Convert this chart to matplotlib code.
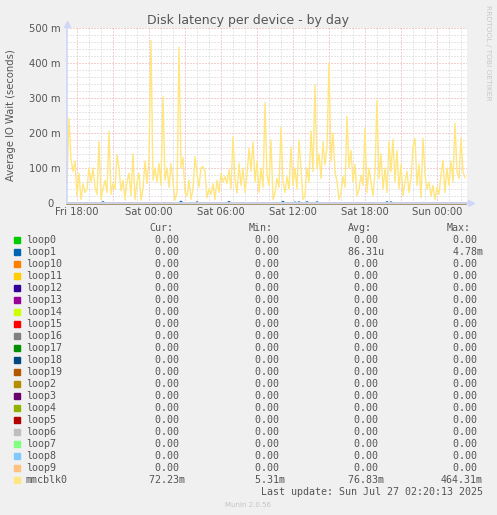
import numpy as np
import matplotlib
matplotlib.use("Agg")
import matplotlib.pyplot as plt
import matplotlib.transforms as mtransforms
from matplotlib.patches import Rectangle

W, H = 497, 515

# time axis in hours relative to Fri 18:00, one sample every 10 minutes
t_start = -50 / 60
t_step = 10 / 60
t_span = 2000 / 60  # 400 px at 5 min/px

# mmcblk0 latency (ms)
mmcblk0 = [
    60, 242, 125, 90, 120, 20, 85, 10, 55, 30, 40, 100,
    60, 100, 45, 25, 175, 10, 40, 65, 30, 205, 25, 55,
    40, 137, 100, 35, 65, 10, 60, 85, 20, 141, 10, 60,
    85, 8, 40, 120, 55, 130, 464.31, 65, 100, 60, 113, 50,
    304, 65, 100, 45, 113, 60, 8, 30, 445, 100, 130, 30,
    20, 65, 10, 40, 132, 85, 45, 100, 104, 90, 15, 40,
    25, 55, 10, 65, 30, 85, 60, 75, 55, 95, 40, 190,
    70, 28, 113, 50, 100, 30, 80, 156, 90, 175, 60, 120,
    30, 100, 45, 287, 80, 50, 180, 10, 30, 70, 45, 216,
    60, 30, 75, 40, 160, 50, 100, 40, 180, 100, 10, 20,
    100, 60, 206, 90, 337, 100, 140, 70, 175, 110, 160, 400,
    120, 200, 90, 60, 10, 30, 75, 45, 248, 100, 150, 60,
    110, 20, 40, 80, 50, 213, 30, 100, 60, 20, 90, 293,
    70, 140, 40, 100, 30, 175, 90, 182, 60, 150, 40, 110,
    20, 60, 90, 30, 70, 160, 185, 50, 110, 15, 185, 80,
    40, 60, 20, 50, 10, 45, 25, 80, 122, 30, 100, 50,
    120, 60, 228, 90, 70, 185, 90, 72.23,
]

# loop1 only has a few tiny blips (ms)
loop1_idx = [18, 57, 65, 81, 108, 114, 116, 120, 125, 160, 162]
loop1_val = [3.5, 4.78, 3.0, 4.0, 4.5, 2.5, 3.0, 3.5, 3.0, 3.5, 3.0]

names = ['loop0', 'loop1', 'loop10', 'loop11', 'loop12', 'loop13', 'loop14',
         'loop15', 'loop16', 'loop17', 'loop18', 'loop19', 'loop2', 'loop3',
         'loop4', 'loop5', 'loop6', 'loop7', 'loop8', 'loop9', 'mmcblk0']
colors = ['#00CC00', '#0066B3', '#FF8000', '#FFCC00', '#330099', '#990099',
          '#CCFF00', '#FF0000', '#808080', '#008F00', '#00487D', '#B35A00',
          '#B38F00', '#6B006B', '#8FB300', '#B30000', '#BEBEBE', '#80FF80',
          '#80C9FF', '#FFC080', '#FFE680']

# legend statistics in seconds
cur_vals = [0, 0, 0, 0, 0, 0, 0, 0, 0, 0, 0, 0, 0, 0, 0, 0, 0, 0, 0, 0, 72.23e-3]
min_vals = [0, 0, 0, 0, 0, 0, 0, 0, 0, 0, 0, 0, 0, 0, 0, 0, 0, 0, 0, 0, 5.31e-3]
avg_vals = [0, 86.31e-6, 0, 0, 0, 0, 0, 0, 0, 0, 0, 0, 0, 0, 0, 0, 0, 0, 0, 0, 76.83e-3]
max_vals = [0, 4.78e-3, 0, 0, 0, 0, 0, 0, 0, 0, 0, 0, 0, 0, 0, 0, 0, 0, 0, 0, 464.31e-3]

x_ticks = [0, 6, 12, 18, 24, 30]
x_labels = ['Fri 18:00', 'Sat 00:00', 'Sat 06:00', 'Sat 12:00', 'Sat 18:00', 'Sun 00:00']
y_ticks = [0, 100, 200, 300, 400, 500]
y_labels = ['0', '100 m', '200 m', '300 m', '400 m', '500 m']

FONT = '#555555'
AXIS = '#CFD6F8'
MONO = 'DejaVu Sans Mono'


def fx(x):
    return x / W


def fy(y):
    return 1 - y / H


def si(v):
    # rrdtool style "%6.2lf%s"
    if v == 0:
        return '%6.2f ' % 0
    for mult, pre in [(1, ' '), (1e-3, 'm'), (1e-6, 'u')]:
        if abs(v) >= mult:
            return '%6.2f%s' % (v / mult, pre)
    return '%6.2f%s' % (v / 1e-9, 'n')


fig = plt.figure(figsize=(W / 100, H / 100), dpi=100, facecolor='#F0F0F0')
ax = fig.add_axes([fx(67), fy(203), 400 / W, 175 / H])
ax.set_facecolor('white')

n = len(mmcblk0)
t = t_start + t_step * np.arange(n)

# grid
for h in range(0, 33):
    major = h % 3 == 0
    ax.axvline(h, color='#EBA0A0' if major else '#CFCFCF', lw=0.72,
               ls=(0, (1, 2)), zorder=1)
for v in range(20, 501, 20):
    major = v % 100 == 0
    ax.axhline(v, color='#EBA0A0' if major else '#CFCFCF', lw=0.72,
               ls=(0, (1, 2)), zorder=1)

# series
for name, col in zip(names, colors):
    if name == 'mmcblk0':
        y = np.array(mmcblk0, dtype=float)
    else:
        y = np.zeros(n)
        if name == 'loop1':
            y[loop1_idx] = loop1_val
    ax.plot(t, y, color=col, lw=1.0, zorder=2, clip_on=False)

ax.set_xlim(t_start, t_start + t_span)
ax.set_ylim(0, 500)
ax.set_xticks(x_ticks, x_labels)
ax.set_yticks(y_ticks, y_labels)
ax.tick_params(length=0, labelsize=7.2, colors=FONT)
ax.tick_params(axis='x', pad=3)
ax.tick_params(axis='y', pad=4.5)
# rrdtool leaves room for the unit after the bare zero
zero_lab = ax.get_yticklabels()[0]
zero_lab.set_transform(zero_lab.get_transform() +
                       mtransforms.ScaledTranslation(-0.07, 0, fig.dpi_scale_trans))
for s in ['top', 'right']:
    ax.spines[s].set_visible(False)
for s in ['left', 'bottom']:
    ax.spines[s].set_color(AXIS)
    ax.spines[s].set_linewidth(1.2)
    ax.spines[s].set_zorder(3)

# axis arrows
ax.plot([0], [1.025], marker='^', ms=4.5, color=AXIS, transform=ax.transAxes, clip_on=False)
ax.plot([1.009], [0], marker='>', ms=4.5, color=AXIS, transform=ax.transAxes, clip_on=False)

fig.text(fx(248), fy(24), 'Disk latency per device - by day', ha='center',
         va='baseline', fontsize=9, color=FONT)
fig.text(fx(11), fy(115), 'Average IO Wait (seconds)', rotation=90, ha='center',
         va='center', fontsize=7.2, color=FONT)
fig.text(fx(488), fy(5), 'RRDTOOL / TOBI OETIKER', rotation=270, ha='center',
         va='top', fontsize=5.4, color='#C8C8C8')

# legend
col_x = [143, 243, 342, 441]
for hx, lab in zip([149, 249, 348, 447], ['Cur:', 'Min:', 'Avg:', 'Max:']):
    fig.text(fx(hx), fy(231), lab, family=MONO, fontsize=7.2, color=FONT,
             va='baseline')

for k, (name, col) in enumerate(zip(names, colors)):
    base = 243.3 + 12 * k
    fig.add_artist(Rectangle((fx(14), fy(236.7 + 12 * k + 6)), 6 / W, 6 / H,
                             transform=fig.transFigure, color=col))
    fig.text(fx(26), fy(base), name, family=MONO, fontsize=7.2, color=FONT,
             va='baseline')
    stats = [cur_vals[k], min_vals[k], avg_vals[k], max_vals[k]]
    for cx, v in zip(col_x, stats):
        fig.text(fx(cx), fy(base), si(v), family=MONO, fontsize=7.2,
                 color=FONT, va='baseline')

fig.text(fx(483), fy(495.3), 'Last update: Sun Jul 27 02:20:13 2025', family=MONO,
         fontsize=7.2, color=FONT, ha='right', va='baseline')
fig.text(fx(248), fy(507), 'Munin 2.0.56', ha='center', va='baseline',
         fontsize=5, color='#C4C4C4')

fig.savefig('out.png', dpi=100, facecolor=fig.get_facecolor())
